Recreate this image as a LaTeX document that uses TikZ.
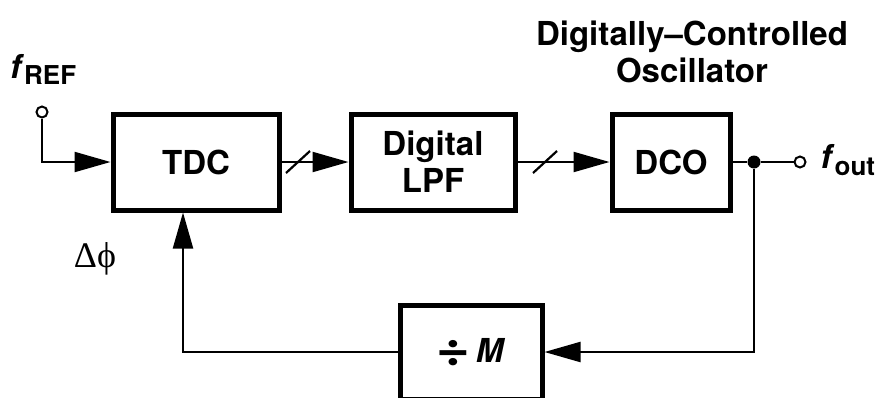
\documentclass[tikz,border=0pt]{standalone}
\usepackage{fontspec}
\setmainfont{TeX Gyre Heros}
\newfontfamily\greekserif{Liberation Serif}
\usetikzlibrary{positioning}
\usetikzlibrary{calc}
\usetikzlibrary{arrows.meta}
\usetikzlibrary{decorations.markings}
\newcommand\blockfont{\fontsize{33}{37}\selectfont}
\newcommand\subfont{\fontsize{26}{26}\selectfont}

\tikzset{
  block/.style={draw, line width=5pt, fill=white, font=\blockfont\bfseries, align=center},
  wire/.style={line width=2.2pt},
  feed/.style={wire, -{Triangle[length=36pt,width=20pt]}},
  bus/.style={postaction={decorate, decoration={markings,
      mark=at position #1 with {\draw[-, line width=2.2pt] (-12pt,-11pt) -- (12pt,11pt);}}}},
  port/.style={draw, circle, line width=2pt, fill=white, inner sep=0pt, minimum size=11pt},
  joint/.style={circle, fill=black, inner sep=0pt, minimum size=13pt},
}

\begin{document}
\begin{tikzpicture}[x=1pt, y=-1pt]
  \clip (0,0) rectangle (880,397);
  % blocks
  \node[block, minimum width=166pt, minimum height=96pt] (tdc) at (196,162) {TDC};
  \node[block, minimum width=164pt, minimum height=96pt] (lpf) at (433,162) {Digital\\LPF};
  \node[block, minimum width=118pt, minimum height=96pt] (dco) at (671,162) {DCO};
  \node[block, minimum width=142pt, minimum height=94pt] (div) at (471,352)
    {\raisebox{-3pt}{\scalebox{1.75}[1.5]{÷}}\,\textit{M}};

  % ports and labels
  \node[port] (fref) at (42,112) {};
  \node[anchor=base west, inner sep=0pt, font=\blockfont\bfseries] (reflabel) at (10,78)
    {\textit{f}\raisebox{-6pt}{\subfont REF}};
  \node[joint] (split) at (754,162) {};
  \node[port] (fout) at (800,162) {};
  \node[right=14pt of fout, anchor=base west, inner sep=0pt, font=\blockfont\bfseries, yshift=-6pt] (outlabel)
    {\textit{f}\raisebox{-7pt}{\subfont out}};
  \node[align=center, font=\blockfont\bfseries] (title) at (692,52) {Digitally–Controlled\\Oscillator};
  \node[font=\greekserif\fontsize{36}{36}\selectfont] (dphi) at (95,259) {Δϕ};

  % wires
  \draw[feed] (fref) |- (tdc.west);
  \draw[feed, bus=16.5pt] (tdc) -- (lpf);
  \draw[feed, bus=27.5pt] (lpf) -- (dco);
  \draw[wire] (dco) -- (split) -- (fout);
  \draw[feed] (split) |- (div);
  \draw[feed] (div) -| ([xshift=-13pt]tdc.south);
\end{tikzpicture}
\end{document}
